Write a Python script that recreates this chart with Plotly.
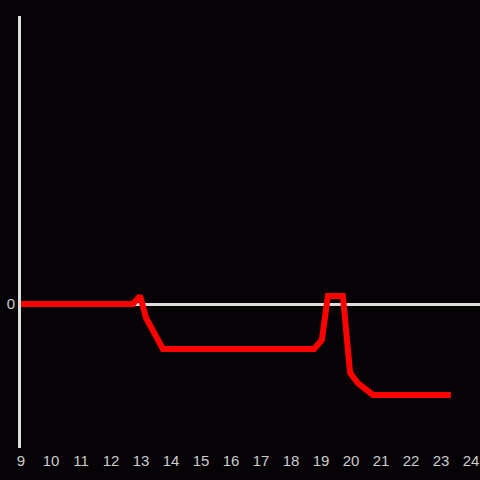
import plotly.graph_objects as go

hours = [9.0, 12.73, 12.97, 13.17, 13.73, 18.77, 19.03, 19.23, 19.73, 19.97, 20.23, 20.73, 23.33]
values = [0.0, 0.0, 0.18, -0.31, -1.0, -1.0, -0.8, 0.18, 0.18, -1.53, -1.76, -2.02, -2.02]
x_ticks = list(range(9, 25))

fig = go.Figure()
fig.add_trace(go.Scatter(x=hours, y=values, mode="lines",
                         line=dict(color="#ff0000", width=6), hoverinfo="skip"))

fig.update_layout(
    width=480, height=480,
    margin=dict(l=21, r=0, t=16, b=32),
    paper_bgcolor="#050306", plot_bgcolor="#050306",
    showlegend=False,
    font=dict(family="Liberation Sans, Arial, sans-serif", size=15, color="#cccccc"),
    xaxis=dict(range=[9, 24.3], tickvals=x_ticks, ticktext=[str(t) for t in x_ticks],
               showgrid=False, zeroline=False, showline=False, ticks="",
               ticklabelstandoff=2),
    yaxis=dict(range=[-3.2, 6.4], tickvals=[0], ticktext=["0"], showgrid=False,
               zeroline=True, zerolinecolor="#dddddd", zerolinewidth=3,
               showline=True, linecolor="#dddddd", linewidth=3, ticks=""),
)

fig.write_html("out.html", config={"displayModeBar": False},
               post_script="document.body.style.margin='0';document.body.style.background='#050306';")
